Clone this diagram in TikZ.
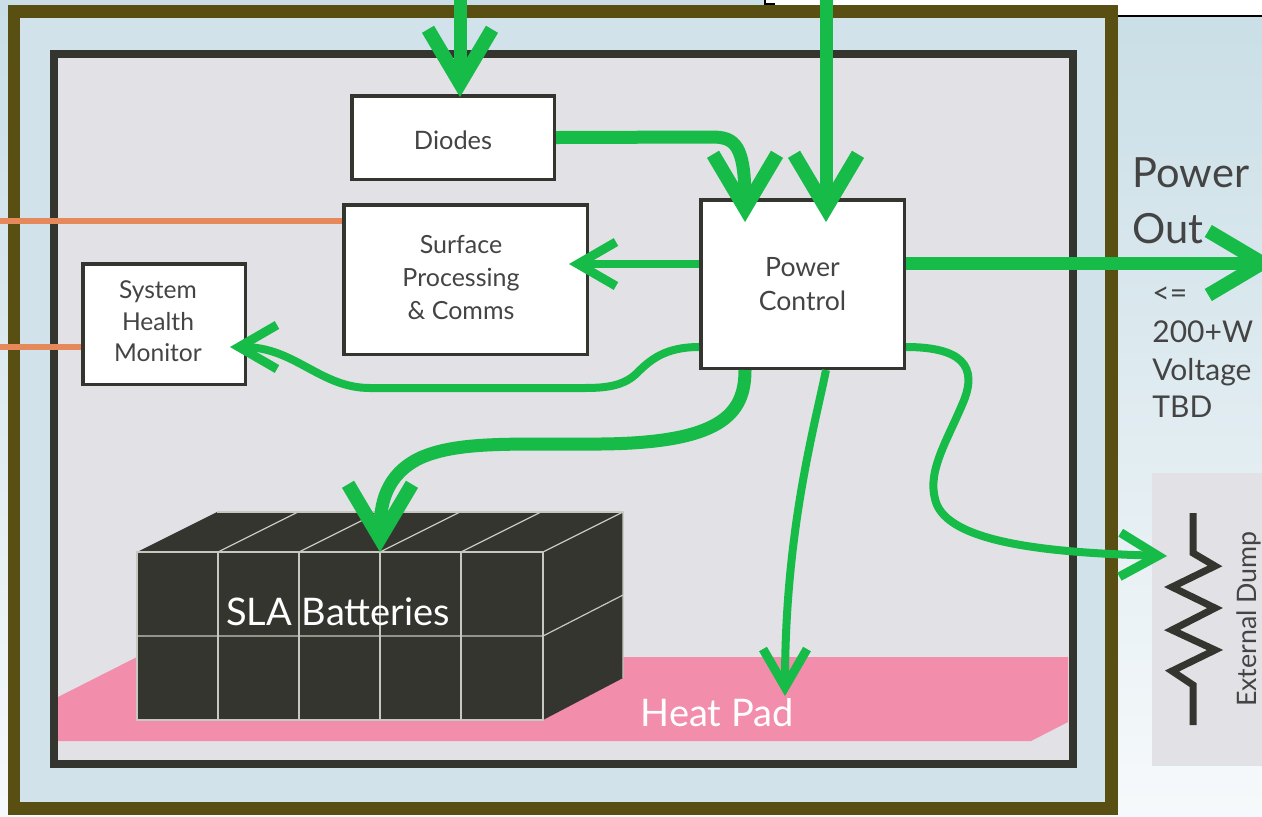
\documentclass[tikz,border=0pt]{standalone}
\usepackage{fontspec}
\setmainfont{Lato}
\usetikzlibrary{arrows.meta}
\definecolor{frameolive}{HTML}{5A4F12}
\definecolor{framedark}{HTML}{353530}
\definecolor{panelblue}{HTML}{D2E2EA}
\definecolor{paneltop}{HTML}{C9DEE6}
\definecolor{panelgray}{HTML}{E1E1E6}
\definecolor{flowgreen}{HTML}{17BB47}
\definecolor{padpink}{HTML}{F28EAB}
\definecolor{signalorange}{HTML}{E5895A}
\definecolor{labelgray}{HTML}{444444}
\definecolor{cellline}{HTML}{C8C8C0}
\tikzset{
  unitbox/.style={draw=framedark, fill=white, line width=1.75pt, align=center, text=labelgray, inner sep=0pt},
  bigflow/.style={draw=flowgreen, line width=6.5pt, -{Straight Barb[length=27pt, width=32pt, line width=7pt]}},
  smallflow/.style={draw=flowgreen, line width=4pt, -{Straight Barb[length=19pt, width=22pt, line width=4.5pt]}},
  signal/.style={draw=signalorange, line width=3pt},
  cell/.style={draw=cellline, line width=0.6pt},
  sidetext/.style={text=labelgray, anchor=base west, inner sep=0pt}
}
\begin{document}
\begin{tikzpicture}[x=0.5pt, y=-0.5pt]
\useasboundingbox (0,0) rectangle (1262,816);
\shade[top color=paneltop, bottom color=panelblue!20!white] (0,0) rectangle (1262,816);
\fill[white] (765,0) rectangle (1262,16);
\draw[black, line width=0.6pt] (1118,16) -- (1262,16);
\draw[black, line width=0.6pt] (765,0) -- (765,4) -- (775,4);
\fill[panelgray] (1152,473) rectangle (1262,766);
\draw[frameolive, line width=6.25pt, fill=panelblue] (14,11.5) rectangle (1111.5,808.5);
\draw[framedark, line width=4pt, fill=panelgray] (54,54) rectangle (1072.5,764);
\fill[padpink] (58,697) -- (137,657) -- (1068,657) -- (1068,722) -- (1031,741) -- (58,741) -- cycle;
\fill[framedark] (137,552) -- (217,512) -- (623,512) -- (623,678) -- (543,720) -- (137,720) -- cycle;
\draw[cell] (137,552) rectangle (543,720);
\draw[cell] (137,636) -- (543,636) -- (623,595);
\draw[cell] (218,552) -- (218,720);
\draw[cell] (299,552) -- (299,720);
\draw[cell] (380,552) -- (380,720);
\draw[cell] (461,552) -- (461,720);
\draw[cell] (218,552) -- (298,512);
\draw[cell] (299,552) -- (379,512);
\draw[cell] (380,552) -- (460,512);
\draw[cell] (461,552) -- (541,512);
\draw[cell] (543,552) -- (623,512) -- (623,678);
\draw[cell] (217,512) -- (623,512);
\node[text=white, font=\fontsize{19}{23}\selectfont, inner sep=0pt] (batteries) at (338,612) {SLA Batteries};
\node[text=white, font=\fontsize{19}{23}\selectfont, inner sep=0pt] (heatpad) at (717,713) {Heat Pad};
\node[unitbox, minimum width=101.25pt, minimum height=41.75pt, text height=12pt, font=\fontsize{12.7}{16}\selectfont] (diodes) at (453,137.5) {Diodes};
\node[unitbox, minimum width=121.75pt, minimum height=74.75pt, font=\fontsize{12.5}{16.5}\selectfont] (surface) at (465.5,279.5) {\begin{tabular}{@{}c@{\hspace{4.5pt}}}Surface\\Processing\\\& Comms\end{tabular}};
\node[unitbox, minimum width=81.25pt, minimum height=60.25pt, font=\fontsize{12.3}{15.75}\selectfont] (health) at (164,324) {\begin{tabular}{@{}c@{\hspace{6pt}}}System\\Health\\Monitor\end{tabular}};
\node[unitbox, minimum width=101.75pt, minimum height=84.25pt, font=\fontsize{13.3}{17}\selectfont] (power) at (802.5,284) {Power\\Control};
\node[sidetext, font=\fontsize{20.8}{28}\selectfont] (powerout) at (1132,187) {Power};
\node[sidetext, font=\fontsize{20.8}{28}\selectfont] (powerout2) at (1132,243) {Out};
\node[sidetext, font=\fontsize{15}{19}\selectfont] (limit) at (1152,303) {<=};
\node[sidetext, font=\fontsize{15}{19}\selectfont] (watts) at (1152,342) {200+W};
\node[sidetext, font=\fontsize{15}{19}\selectfont] (voltage) at (1152,380) {Voltage};
\node[sidetext, font=\fontsize{15}{19}\selectfont] (tbd) at (1152,417) {TBD};
\node[text=labelgray, rotate=90, font=\fontsize{13.4}{16}\selectfont, inner sep=0pt] (dump) at (1248.5,619) {External Dump};
\draw[framedark, line width=3.5pt, line join=miter] (1193,513) -- (1193,553) -- (1215,566) -- (1172,587) -- (1215,608) -- (1172,630) -- (1215,650) -- (1172,671) -- (1193,685) -- (1193,725);
\coordinate (diodefeed) at (460,-2);
\coordinate (powerfeed) at (826,-2);
\coordinate (poweroutend) at (1276,263);
\coordinate (dumpend) at (1167,556);
\coordinate (padend) at (785,696);
\coordinate (cellend) at (380,552);
\coordinate (leftA) at (-2,221);
\coordinate (leftB) at (-2,347);
\draw[signal] (leftA) -- (surface.west |- leftA);
\draw[signal] (leftB) -- (health.west |- leftB);
\draw[bigflow] (diodefeed) -- ([shift={(7,3)}]diodes.north);
\draw[bigflow] (powerfeed) -- ([shift={(23.5,24)}]power.north);
\draw[bigflow] (diodes.east) -- (712,137) .. controls (735,137) and (745,145) .. ([shift={(-57.5,24)}]power.north);
\draw[bigflow] (power.east |- poweroutend) -- (poweroutend);
\draw[bigflow] ([shift={(-57.5,0)}]power.south) .. controls (745,415) and (720,443) .. (600,444) .. controls (520,445) and (460,440) .. (420,458) .. controls (385,475) and (380,505) .. (cellend);
\draw[smallflow] ([shift={(0,-20)}]power.west) -- ([shift={(-20,-15.5)}]surface.east);
\draw[smallflow] ([shift={(0,63)}]power.west) .. controls (665,347) and (650,360) .. (637,373) .. controls (622,388) and (600,388) .. (580,388) -- (370,388) .. controls (320,388) and (295,347) .. ([shift={(-17,23)}]health.east);
\draw[smallflow] ([shift={(23.5,0)}]power.south) .. controls (815,425) and (785,530) .. (padend);
\draw[smallflow] ([shift={(0,63)}]power.east) .. controls (960,347) and (980,365) .. (962,405) .. controls (945,445) and (925,475) .. (937,505) .. controls (955,545) and (1060,553) .. (dumpend);
\end{tikzpicture}
\end{document}
